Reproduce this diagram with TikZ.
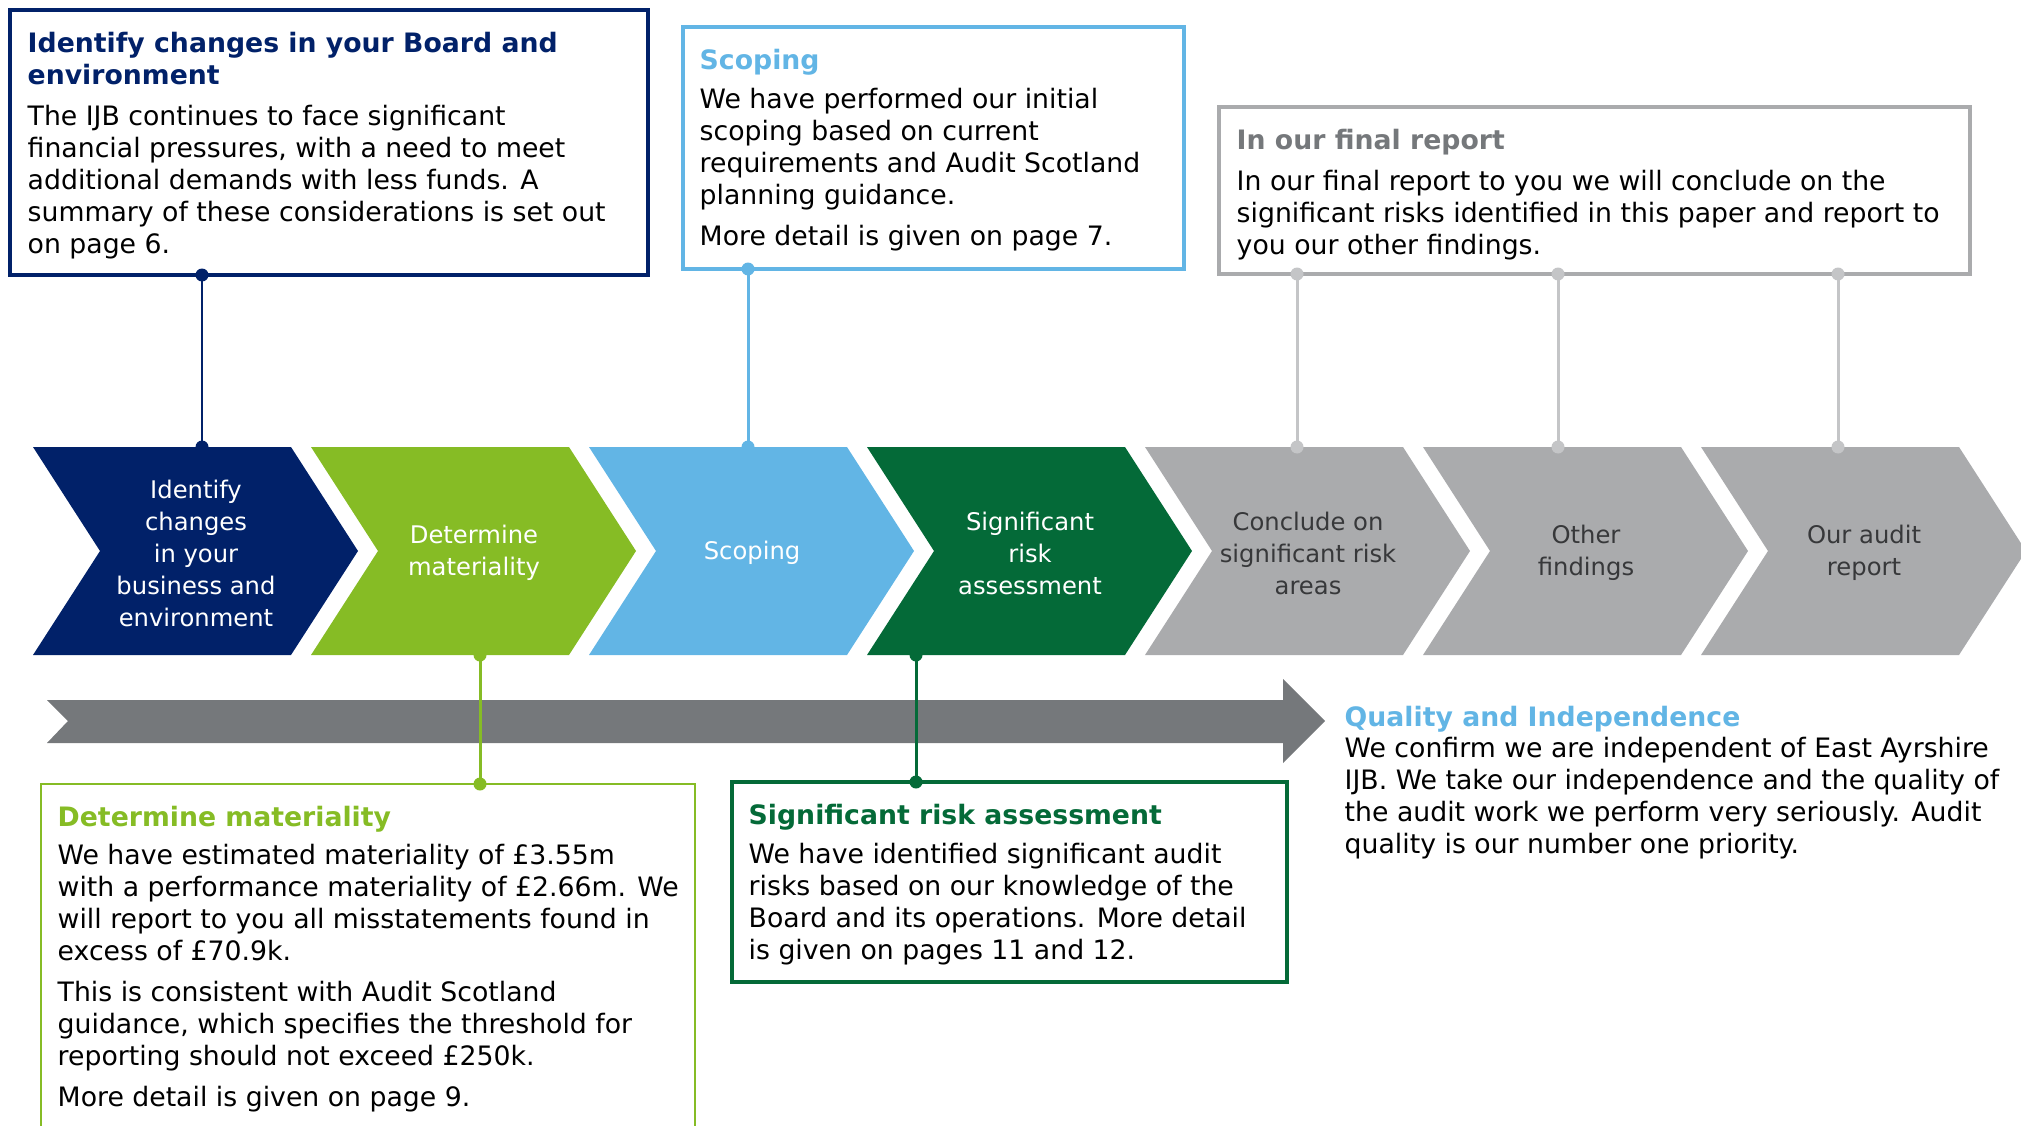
\documentclass[tikz,border=0pt]{standalone}
\usepackage{fontspec}
\setmainfont{DejaVu Sans}

\definecolor{navy}{RGB}{1,33,105}
\definecolor{lime}{RGB}{134,188,37}
\definecolor{skyblue}{RGB}{98,181,229}
\definecolor{darkgreen}{RGB}{4,106,56}
\definecolor{chevgray}{RGB}{170,171,173}
\definecolor{chevtext}{RGB}{55,56,58}
\definecolor{bandgray}{RGB}{117,120,123}
\definecolor{linkgray}{RGB}{196,197,199}

\begin{document}
\begin{tikzpicture}[
    infobox/.style={draw, rectangle, inner sep=0pt, outer sep=0pt, anchor=north west},
    infotext/.style={anchor=north west, inner sep=0pt, align=left, font=\fontsize{7.6}{9.1}\selectfont},
    steplabel/.style={align=center, inner sep=0pt, font=\fontsize{6.9}{9.1}\selectfont},
    link/.style={line width=0.85pt}
]
    \useasboundingbox (0,0) rectangle (20.21,-11.26);

    % Chevrons
    \foreach \i/\col/\tcol/\lbl in {
        0/navy/white/{Identify\\changes\\in your\\business and\\environment},
        1/lime/white/{Determine\\materiality},
        2/skyblue/white/{Scoping},
        3/darkgreen/white/{Significant\\risk\\assessment},
        4/chevgray/chevtext/{Conclude on\\significant risk\\areas},
        5/chevgray/chevtext/{Other\\findings},
        6/chevgray/chevtext/{Our audit\\report}} {
        \pgfmathsetmacro{\L}{0.33+2.78*\i}
        \fill[\col] (\L,-4.47) -- ++(2.58,0) -- ++(0.67,-1.04) -- ++(-0.67,-1.04)
            -- ++(-2.58,0) -- ++(0.67,1.04) -- cycle;
        \node[steplabel, text=\tcol] (chev\i) at (\L+1.63,-5.53) {\lbl};
    }

    % Timeline arrow
    \fill[bandgray] (0.47,-7.00) -- (12.83,-7.00) -- (12.83,-6.79) -- (13.25,-7.21)
        -- (12.83,-7.63) -- (12.83,-7.43) -- (0.47,-7.43) -- (0.68,-7.21) -- cycle;

    % Boxes
    \node[infobox, navy, line width=0.9pt, minimum width=6.38cm, minimum height=2.65cm] (boardbox) at (0.10,-0.10) {};
    \node[infobox, skyblue, line width=0.9pt, minimum width=5.01cm, minimum height=2.42cm] (scopebox) at (6.83,-0.27) {};
    \node[infobox, chevgray, line width=0.9pt, minimum width=7.51cm, minimum height=1.67cm] (finalbox) at (12.19,-1.07) {};
    \node[infobox, lime, line width=0.5pt, minimum width=6.54cm, minimum height=4.00cm] (matbox) at (0.41,-7.84) {};
    \node[infobox, darkgreen, line width=1pt, minimum width=5.55cm, minimum height=2.00cm] (riskbox) at (7.32,-7.82) {};

    % Box texts
    \node[infotext] (boardtext) at (0.27,-0.32) {%
        \textcolor{navy}{\textbf{Identify changes in your Board and}}\\
        \textcolor{navy}{\textbf{environment}}\\[0.09cm]
        The IJB continues to face significant\\
        financial pressures, with a need to meet\\
        additional demands with less funds. A\\
        summary of these considerations is set out\\
        on page 6.};
    \node[infotext] (scopetext) at (6.99,-0.49) {%
        \textcolor{skyblue}{\textbf{Scoping}}\\[0.07cm]
        We have performed our initial\\
        scoping based on current\\
        requirements and Audit Scotland\\
        planning guidance.\\[0.09cm]
        More detail is given on page 7.};
    \node[infotext] (finaltext) at (12.36,-1.29) {%
        \textcolor{bandgray}{\textbf{In our final report}}\\[0.09cm]
        In our final report to you we will conclude on the\\
        significant risks identified in this paper and report to\\
        you our other findings.};
    \node[infotext] (mattext) at (0.57,-8.05) {%
        \textcolor{lime}{\textbf{Determine materiality}}\\[0.07cm]
        We have estimated materiality of £3.55m\\
        with a performance materiality of £2.66m. We\\
        will report to you all misstatements found in\\
        excess of £70.9k.\\[0.09cm]
        This is consistent with Audit Scotland\\
        guidance, which specifies the threshold for\\
        reporting should not exceed £250k.\\[0.09cm]
        More detail is given on page 9.};
    \node[infotext] (risktext) at (7.48,-8.03) {%
        \textcolor{darkgreen}{\textbf{Significant risk assessment}}\\[0.08cm]
        We have identified significant audit\\
        risks based on our knowledge of the\\
        Board and its operations. More detail\\
        is given on pages 11 and 12.};
    \node[infotext] (qualitytext) at (13.44,-7.05) {%
        \textcolor{skyblue}{\textbf{Quality and Independence}}\\
        We confirm we are independent of East Ayrshire\\
        IJB. We take our independence and the quality of\\
        the audit work we perform very seriously. Audit\\
        quality is our number one priority.};

    % Pins on the chevrons
    \coordinate (boardpin) at (2.02,-4.47);
    \coordinate (scopepin) at (7.48,-4.47);
    \coordinate (matpin) at (4.80,-6.55);
    \coordinate (riskpin) at (9.16,-6.55);

    % Links
    \draw[link, navy] (boardbox.south -| boardpin) -- (boardpin);
    \fill[navy] (boardbox.south -| boardpin) circle (0.065) (boardpin) circle (0.065);
    \draw[link, skyblue] (scopebox.south -| scopepin) -- (scopepin);
    \fill[skyblue] (scopebox.south -| scopepin) circle (0.065) (scopepin) circle (0.065);
    \draw[link, lime] (matpin) -- (matbox.north -| matpin);
    \fill[lime] (matpin) circle (0.065) (matbox.north -| matpin) circle (0.065);
    \draw[link, darkgreen] (riskpin) -- (riskbox.north -| riskpin);
    \fill[darkgreen] (riskpin) circle (0.065) (riskbox.north -| riskpin) circle (0.065);
    \foreach \x [count=\k] in {12.97,15.58,18.38} {
        \coordinate (finalpin\k) at (\x,-4.47);
        \draw[link, linkgray] (finalbox.south -| finalpin\k) -- (finalpin\k);
        \fill[linkgray] (finalbox.south -| finalpin\k) circle (0.065) (finalpin\k) circle (0.065);
    }
\end{tikzpicture}
\end{document}
